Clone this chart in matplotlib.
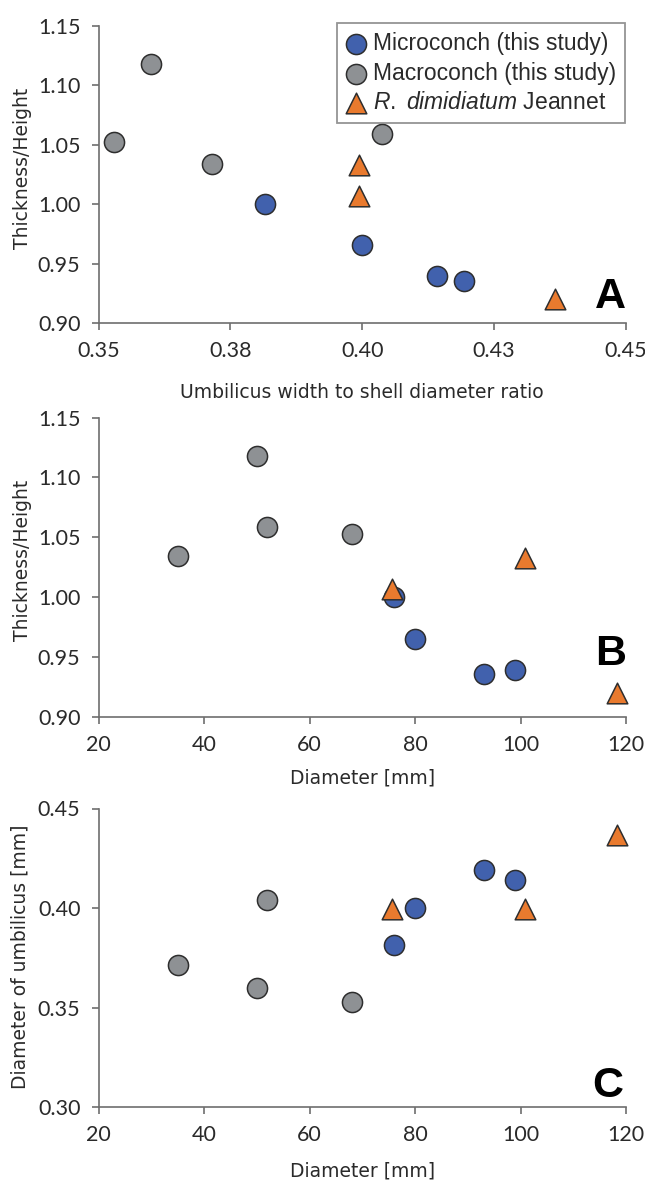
import matplotlib
matplotlib.use("Agg")
import matplotlib.pyplot as plt

plt.rcParams['mathtext.fontset'] = 'custom'
plt.rcParams['mathtext.rm'] = 'Liberation Sans'
plt.rcParams['mathtext.it'] = 'Liberation Sans:italic'

# ---------------- data ----------------
micro_diam = [76, 80, 93, 99]
micro_umb = [0.3816, 0.4000, 0.4193, 0.4141]
micro_th = [1.000, 0.9655, 0.9355, 0.9392]

macro_diam = [35, 50, 52, 68]
macro_umb = [0.3715, 0.3600, 0.4038, 0.3530]
macro_th = [1.034, 1.1177, 1.0588, 1.0526]

rdim_diam = [75.6, 100.8, 118.3]
rdim_umb = [0.3993, 0.3993, 0.4366]
rdim_th = [1.007, 1.033, 0.920]

labels = ["Microconch (this study)", "Macroconch (this study)",
          r"$\mathit{R.\ dimidiatum}$ Jeannet"]

a_xticks = [0.35, 0.375, 0.40, 0.425, 0.45]
a_xticklabels = ["0.35", "0.38", "0.40", "0.43", "0.45"]
th_yticks = [0.90, 0.95, 1.00, 1.05, 1.10, 1.15]
th_yticklabels = ["0.90", "0.95", "1.00", "1.05", "1.10", "1.15"]
d_xticks = [20, 40, 60, 80, 100, 120]
d_xticklabels = ["20", "40", "60", "80", "100", "120"]
c_yticks = [0.30, 0.35, 0.40, 0.45]
c_yticklabels = ["0.30", "0.35", "0.40", "0.45"]

# ---------------- style ----------------
BLUE = "#4161AD"
GRAY = "#8E9194"
ORANGE = "#E97A2E"
EDGE = "#2E2E2E"
SPINE = "#6E6E6E"
TXT = "#2A2A2A"

W, H = 645, 1183
fig = plt.figure(figsize=(W / 100, H / 100), dpi=100)


def add_ax(top, bottom, left=98.5, right=626):
    return fig.add_axes([left / W, 1 - bottom / H, (right - left) / W, (bottom - top) / H])


def style(ax, xticks, xtl, yticks, ytl, xlim, ylim):
    ax.set_xlim(*xlim)
    ax.set_ylim(*ylim)
    for s in ("top", "right"):
        ax.spines[s].set_visible(False)
    for s in ("left", "bottom"):
        ax.spines[s].set_color(SPINE)
        ax.spines[s].set_linewidth(1.2)
    ax.set_xticks(xticks)
    ax.set_xticklabels(xtl)
    ax.set_yticks(yticks)
    ax.set_yticklabels(ytl)
    ax.tick_params(direction="out", length=5, width=1.2, color=SPINE, pad=8,
                   labelsize=15.5, labelcolor=TXT)
    for lab in ax.get_xticklabels() + ax.get_yticklabels():
        lab.set_fontfamily("Lato")
    ax.patch.set_alpha(0)


def labels_at(ax, xlabel, xy, ylabel, yx, yy):
    ax.set_xlabel(xlabel, **LBL)
    ax.xaxis.label.set_va("center")
    ax.xaxis.set_label_coords(0.5, xy)
    ax.set_ylabel(ylabel, **LBL)
    ax.yaxis.label.set_va("center")
    ax.yaxis.set_label_coords(yx, yy)


def scatter(ax, x1, y1, x2, y2, x3, y3):
    h1 = ax.scatter(x1, y1, s=210, marker="o", c=BLUE, edgecolors=EDGE, linewidths=1.1, zorder=3)
    h2 = ax.scatter(x2, y2, s=210, marker="o", c=GRAY, edgecolors=EDGE, linewidths=1.1, zorder=3)
    h3 = ax.scatter(x3, y3, s=220, marker="^", c=ORANGE, edgecolors=EDGE, linewidths=1.1, zorder=4)
    return h1, h2, h3


LBL = dict(fontsize=13.5, color=TXT, family="DejaVu Sans")
LET = dict(fontsize=31, fontweight="bold", family="Liberation Sans", color="black")

# ---------------- Panel A ----------------
axA = add_ax(26, 323)
hA = scatter(axA, micro_umb, micro_th, macro_umb, macro_th, rdim_umb, rdim_th)
style(axA, a_xticks, a_xticklabels, th_yticks, th_yticklabels, (0.35, 0.45), (0.90, 1.15))
labels_at(axA, "Umbilicus width to shell diameter ratio", -0.235,
          "Thickness/Height", -0.145, 0.52)
axA.text(1.0, 0.05, "A", transform=axA.transAxes, ha="right", va="baseline", **LET)

leg = axA.legend(hA, labels, loc="upper right", bbox_to_anchor=(625 / W, 1 - 23 / H),
                 bbox_transform=fig.transFigure, borderaxespad=0,
                 prop={"family": "Liberation Sans", "size": 16.5},
                 frameon=True, fancybox=False, handlelength=0.8, handletextpad=0.35,
                 labelspacing=0.28, borderpad=0.4, scatterpoints=1)
leg.get_frame().set_edgecolor("#7A7A7A")
leg.get_frame().set_linewidth(1.3)
for t in leg.get_texts():
    t.set_color(TXT)

# ---------------- Panel B ----------------
axB = add_ax(417.5, 717)
scatter(axB, micro_diam, micro_th, macro_diam, macro_th, rdim_diam, rdim_th)
style(axB, d_xticks, d_xticklabels, th_yticks, th_yticklabels, (20, 120), (0.90, 1.15))
labels_at(axB, "Diameter [mm]", -0.205, "Thickness/Height", -0.145, 0.524)
axB.text(1.0, 0.174, "B", transform=axB.transAxes, ha="right", va="baseline", **LET)

# ---------------- Panel C ----------------
axC = add_ax(808.5, 1107)
scatter(axC, micro_diam, micro_umb, macro_diam, macro_umb, rdim_diam, rdim_umb)
style(axC, d_xticks, d_xticklabels, c_yticks, c_yticklabels, (20, 120), (0.30, 0.45))
labels_at(axC, "Diameter [mm]", -0.215, "Diameter of umbilicus [mm]", -0.149, 0.505)
axC.text(0.995, 0.034, "C", transform=axC.transAxes, ha="right", va="baseline", **LET)

for ax in (axA, axB, axC):
    for c in ax.collections:
        c.set_clip_on(False)

fig.savefig("out.png", dpi=100, facecolor="white")
